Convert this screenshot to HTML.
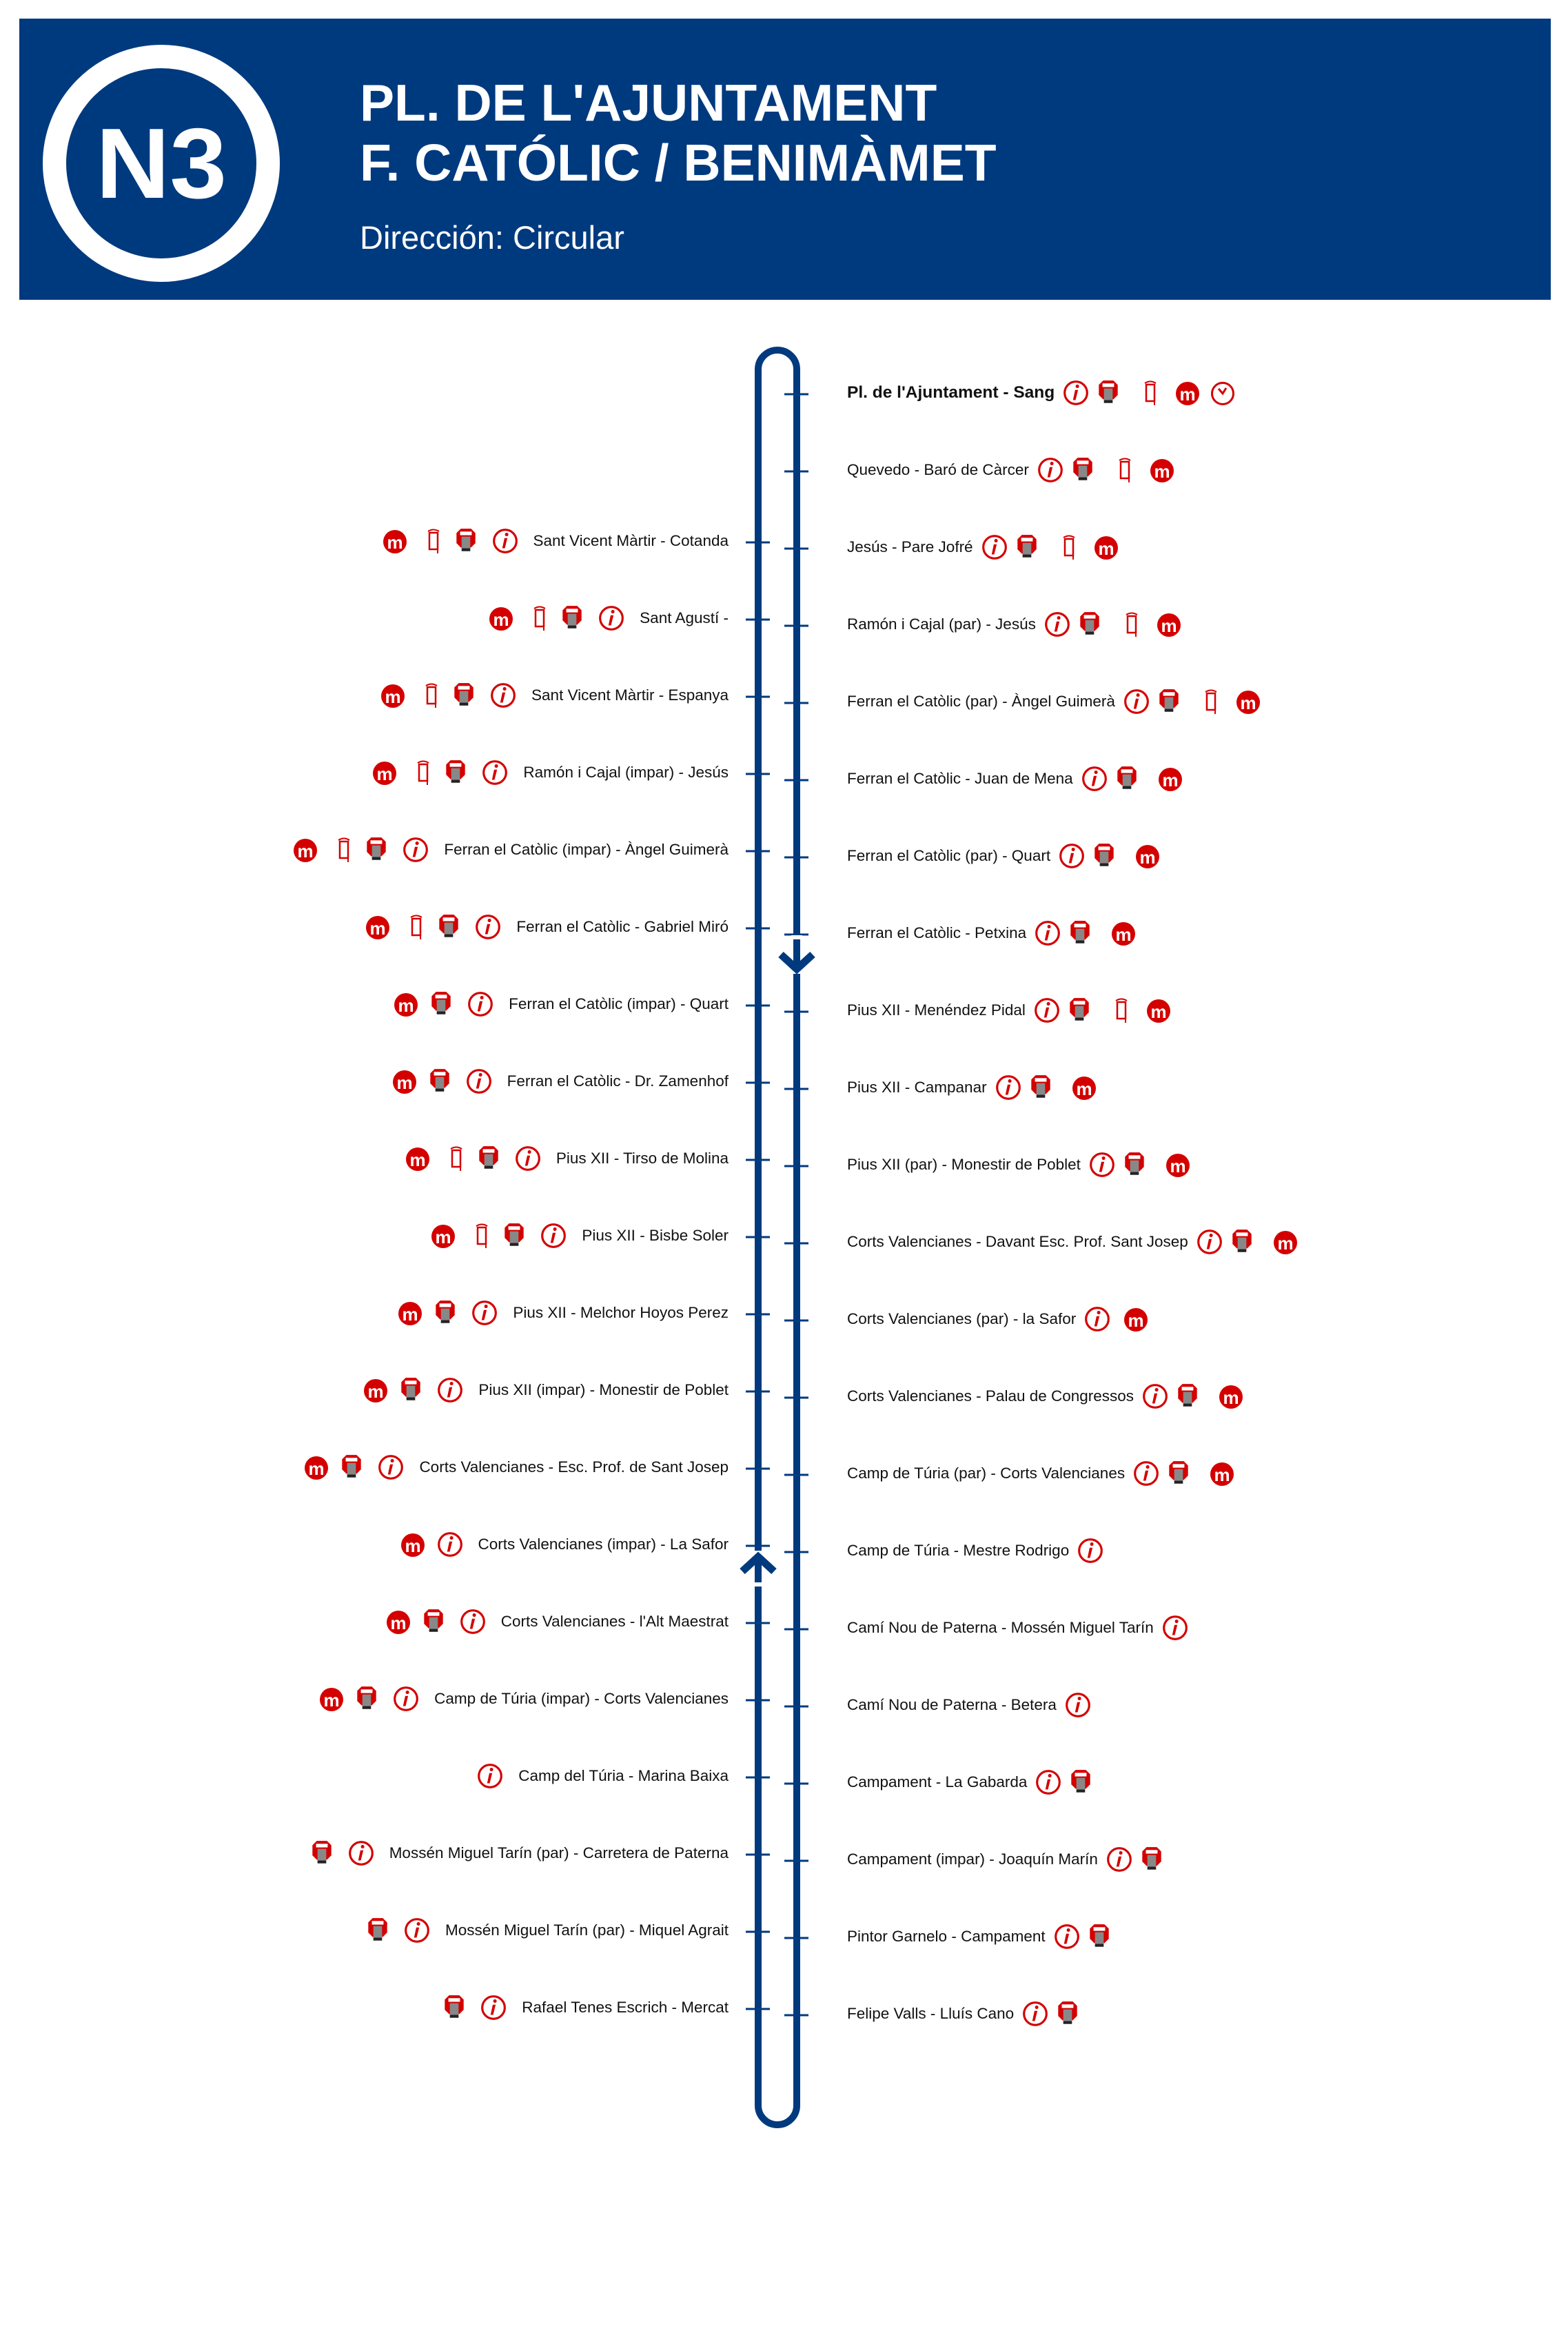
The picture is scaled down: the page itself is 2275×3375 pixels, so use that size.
<!DOCTYPE html>
<html><head><meta charset="utf-8">
<style>
html,body{margin:0;padding:0;background:#fff;}
#page{position:relative;width:2275px;height:3375px;overflow:hidden;font-family:"Liberation Sans",Arial,sans-serif;}
#header{position:absolute;left:28px;top:27px;width:2222px;height:408px;background:#003a7e;}
.t{position:absolute;color:#fff;white-space:nowrap;}
.stop{position:absolute;display:flex;align-items:center;white-space:nowrap;font-size:22.5px;color:#111;height:40px;}
.stop svg{display:block;flex:none;}
</style></head>
<body>
<div id="page">
  <div id="header">
    <svg style="position:absolute;left:34px;top:38px" width="344" height="344" viewBox="0 0 344 344">
      <circle cx="172" cy="172" r="155" fill="none" stroke="#fff" stroke-width="34"/>
      <text x="172" y="222" text-anchor="middle" font-family="Liberation Sans, Arial, sans-serif" font-weight="bold" font-size="145" fill="#fff" textLength="190" lengthAdjust="spacingAndGlyphs">N3</text>
    </svg>
    <div class="t" style="left:494px;top:80px;font-size:75px;font-weight:bold;line-height:85px">PL. DE L'AJUNTAMENT</div>
    <div class="t" style="left:494px;top:167px;font-size:75px;font-weight:bold;line-height:85px">F. CATÓLIC / BENIMÀMET</div>
    <div class="t" style="left:494px;top:290px;font-size:47px;line-height:56px">Dirección: Circular</div>
  </div>
  <svg id="diagram" style="position:absolute;left:0;top:0" width="2275" height="3375"></svg>
  <div id="stops"></div>
</div>
<script>
const rightNames=["Pl. de l'Ajuntament - Sang","Quevedo - Baró de Càrcer","Jesús - Pare Jofré","Ramón i Cajal (par) - Jesús","Ferran el Catòlic (par) - Àngel Guimerà","Ferran el Catòlic - Juan de Mena","Ferran el Catòlic (par) - Quart","Ferran el Catòlic - Petxina","Pius XII - Menéndez Pidal","Pius XII - Campanar","Pius XII (par) - Monestir de Poblet","Corts Valencianes - Davant Esc. Prof. Sant Josep","Corts Valencianes (par) - la Safor","Corts Valencianes - Palau de Congressos","Camp de Túria (par) - Corts Valencianes","Camp de Túria - Mestre Rodrigo","Camí Nou de Paterna - Mossén Miguel Tarín","Camí Nou de Paterna - Betera","Campament - La Gabarda","Campament (impar) - Joaquín Marín","Pintor Garnelo - Campament","Felipe Valls - Lluís Cano"];
const rightIcons=["itsmc","itsm","itsm","itsm","itsm","itm","itm","itm","itsm","itm","itm","itm","im","itm","itm","i","i","i","it","it","it","it"];
const leftNames=["Sant Vicent Màrtir - Cotanda","Sant Agustí -","Sant Vicent Màrtir - Espanya","Ramón i Cajal (impar) - Jesús","Ferran el Catòlic (impar) - Àngel Guimerà","Ferran el Catòlic - Gabriel Miró","Ferran el Catòlic (impar) - Quart","Ferran el Catòlic - Dr. Zamenhof","Pius XII - Tirso de Molina","Pius XII - Bisbe Soler","Pius XII - Melchor Hoyos Perez","Pius XII (impar) - Monestir de Poblet","Corts Valencianes - Esc. Prof. de Sant Josep","Corts Valencianes (impar) - La Safor","Corts Valencianes - l'Alt Maestrat","Camp de Túria (impar) - Corts Valencianes","Camp del Túria - Marina Baixa","Mossén Miguel Tarín (par) - Carretera de Paterna","Mossén Miguel Tarín (par) - Miquel Agrait","Rafael Tenes Escrich - Mercat"];
const leftIcons=["itsm","itsm","itsm","itsm","itsm","itsm","itm","itm","itsm","itsm","itm","itm","itm","im","itm","itm","i","it","it","it"];

const RX=1156, LX=1100, R0=572, L0=787, STEP=112;
const ry=i=>R0+i*STEP, ly=i=>L0+i*STEP;
const NS='http://www.w3.org/2000/svg';
const svg=document.getElementById('diagram');
function mk(tag,attrs){const e=document.createElementNS(NS,tag);for(const k in attrs)e.setAttribute(k,attrs[k]);svg.appendChild(e);return e;}
const blue='#003a7e';
const loop=mk('path',{d:`M${LX} 3055 V536 A28 28 0 0 1 ${RX} 536 V3055 A28 28 0 0 1 ${LX} 3055`,fill:'none',stroke:blue,'stroke-width':10});


rightNames.forEach((n,i)=>{const t=mk('line',{x1:1138,x2:1173,y1:ry(i),y2:ry(i),stroke:blue,'stroke-width':3});

});
leftNames.forEach((n,i)=>{const t=mk('line',{x1:1082,x2:1117,y1:ly(i),y2:ly(i),stroke:blue,'stroke-width':3});

});
mk('rect',{x:RX-8,y:1357,width:16,height:6,fill:'#fff'});
mk('rect',{x:RX-8,y:1405,width:16,height:8,fill:'#fff'});
const a1=mk('polyline',{points:`${RX-23},1385 ${RX},1406 ${RX+23},1385`,fill:'none',stroke:blue,'stroke-width':11});


mk('rect',{x:LX-8,y:2250,width:16,height:8,fill:'#fff'});
mk('rect',{x:LX-8,y:2296,width:16,height:6,fill:'#fff'});
const a2=mk('polyline',{points:`${LX-23},2280 ${LX},2259 ${LX+23},2280`,fill:'none',stroke:blue,'stroke-width':11});



const red='#d40000';
const ICON={
 i:`<svg width="38" height="40" viewBox="0 0 36 38"><circle cx="18" cy="19" r="15.5" fill="#fff" stroke="${red}" stroke-width="3"/><circle cx="20" cy="10" r="2.4" fill="${red}"/><path d="M17 15 L21 15 L17.5 29 L14 29 Z" fill="${red}"/></svg>`,
 t:`<svg width="32" height="40" viewBox="0 0 30 38"><path d="M8 2 H22 L28 8 V22 L22 28 H8 L2 22 V8 Z" fill="${red}"/><rect x="7" y="6" width="16" height="5" fill="#fff"/><rect x="9" y="13" width="12" height="16" fill="#888"/><rect x="9" y="29" width="12" height="4" fill="#222"/></svg>`,
 s:`<svg width="22" height="40" viewBox="0 0 22 40"><path d="M3 6 Q11 1 19 6" fill="none" stroke="${red}" stroke-width="2"/><rect x="5" y="8" width="12" height="24" fill="none" stroke="${red}" stroke-width="2.5"/><line x1="17" y1="32" x2="17" y2="38" stroke="${red}" stroke-width="2"/></svg>`,
 m:`<svg width="38" height="38" viewBox="0 0 38 38"><circle cx="19" cy="20" r="17" fill="${red}"/><text x="19" y="30" text-anchor="middle" font-family="Liberation Sans, Arial, sans-serif" font-weight="bold" font-size="26" fill="#fff">m</text></svg>`,
 c:`<svg width="38" height="38" viewBox="0 0 38 38"><circle cx="19" cy="20" r="15.5" fill="#fff" stroke="${red}" stroke-width="3"/><path d="M13 13 L19 20 L24 12" fill="none" stroke="${red}" stroke-width="3"/></svg>`
};
const NAMES={i:'info-icon',t:'ticket-icon',s:'shelter-icon',m:'metro-icon',c:'clock-icon'};
const cont=document.getElementById('stops');
function iconEl(k){const w=document.createElement('span');w.innerHTML=ICON[k];


w.style.display='block';w.style.flex='none';return w;}
rightNames.forEach((n,i)=>{
 const d=document.createElement('div');d.className='stop';
 
 
 d.style.left='1229px';d.style.top=(ry(i)-22)+'px';
 const s=document.createElement('span');s.textContent=n;s.style.marginRight='12px';if(i===0){s.style.fontWeight='bold';s.style.fontSize='24.5px';}d.appendChild(s);
 const ks=rightIcons[i].split('');
 ks.forEach((k,j)=>{const e=iconEl(k);const nx=ks[j+1];
  let m=12; if(k==='t'&&nx) m=(nx==='s')?34:28; if(k==='s')m=24; if(k==='i'&&nx==='m')m=18; if(k==='m')m=13;
  e.style.marginRight=m+'px';d.appendChild(e);});
 cont.appendChild(d);
});
leftNames.forEach((n,i)=>{
 const d=document.createElement('div');d.className='stop';
 
 
 d.style.right=(2275-1057)+'px';d.style.top=(ly(i)-22)+'px';
 const ks=leftIcons[i].split('').reverse();
 ks.forEach((k,j)=>{const e=iconEl(k);const nx=ks[j+1];
  let m=20; if(k==='m')m=(nx==='s')?26:16; if(k==='s')m=20; if(k==='t')m=22; if(k==='i')m=22;
  e.style.marginRight=m+'px';d.appendChild(e);});
 const s=document.createElement('span');s.textContent=n;d.appendChild(s);
 cont.appendChild(d);
});
</script>
</body></html>
